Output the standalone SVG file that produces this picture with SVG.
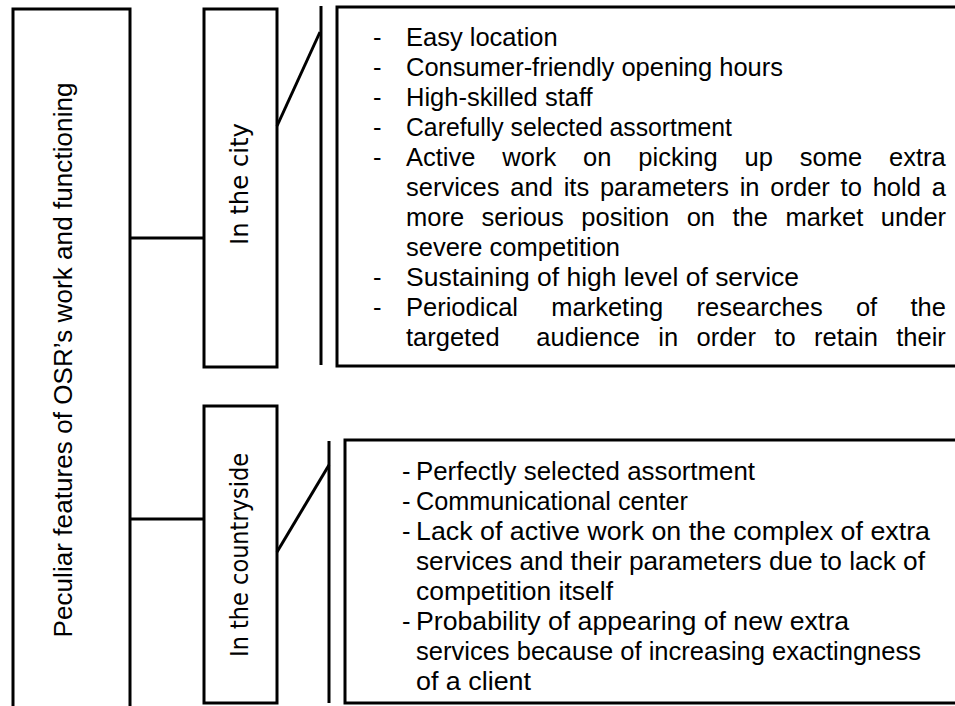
<svg xmlns="http://www.w3.org/2000/svg" width="955" height="706" viewBox="0 0 955 706">
  <style>
    .box { fill: #ffffff; stroke: #000000; stroke-width: 3; }
    .line { fill: none; stroke: #000000; stroke-width: 3; }
    .vlabel { font-family: "DejaVu Sans", sans-serif; font-size: 24px; fill: #000000; }
    .main { font-family: "Liberation Sans", Arial, sans-serif; font-size: 26px; fill: #000000; }
    .item { font-family: "Liberation Sans", Arial, sans-serif; font-size: 25.5px; fill: #000000; }
  </style>
  <rect width="955" height="706" fill="#ffffff"/>

  <!-- root node: open at the bottom edge -->
  <g id="root">
    <rect class="box" x="13" y="9" width="117" height="710"/>
    <text class="main" transform="translate(72,360) rotate(-90)" text-anchor="middle" textLength="555" lengthAdjust="spacing">Peculiar features of OSR’s work and functioning</text>
  </g>

  <g id="city">
    <rect class="box" x="204" y="9" width="73" height="358"/>
    <text class="vlabel" transform="translate(248,184) rotate(-90)" text-anchor="middle" textLength="122" lengthAdjust="spacingAndGlyphs">In the city</text>
  </g>

  <g id="countryside">
    <rect class="box" x="204" y="406" width="73" height="297"/>
    <text class="vlabel" transform="translate(248,555) rotate(-90)" text-anchor="middle" textLength="204" lengthAdjust="spacingAndGlyphs">In the countryside</text>
  </g>

  <g id="city-features">
    <rect class="box" x="337" y="7" width="640" height="359"/>
    <g class="item">
      <text x="373" y="46">-</text><text x="406" y="46">Easy location</text>
      <text x="373" y="76">-</text><text x="406" y="76">Consumer-friendly opening hours</text>
      <text x="373" y="106">-</text><text x="406" y="106">High-skilled staff</text>
      <text x="373" y="136">-</text><text x="406" y="136" textLength="326" lengthAdjust="spacingAndGlyphs">Carefully selected assortment</text>
      <text x="373" y="166">-</text><text x="406" y="166" word-spacing="19.8">Active work on picking up some extra</text>
      <text x="406" y="196" word-spacing="3.7">services and its parameters in order to hold a</text>
      <text x="406" y="226" word-spacing="10.4">more serious position on the market under</text>
      <text x="406" y="256">severe competition</text>
      <text x="373" y="286">-</text><text x="406" y="286" textLength="393" lengthAdjust="spacingAndGlyphs">Sustaining of high level of service</text>
      <text x="373" y="316">-</text><text x="406" y="316" word-spacing="26.2">Periodical marketing researches of the</text>
      <text x="406" y="346" word-spacing="11.3" xml:space="preserve">targeted  audience in order to retain their</text>
    </g>
  </g>

  <g id="countryside-features">
    <rect class="box" x="345" y="440" width="640" height="263"/>
    <g class="item">
      <text x="402" y="480">-</text><text x="416" y="480" textLength="339" lengthAdjust="spacingAndGlyphs">Perfectly selected assortment</text>
      <text x="402" y="510">-</text><text x="416" y="510" textLength="272" lengthAdjust="spacingAndGlyphs">Communicational center</text>
      <text x="402" y="540">-</text><text x="416" y="540" textLength="514" lengthAdjust="spacingAndGlyphs">Lack of active work on the complex of extra</text>
      <text x="416" y="570" textLength="509" lengthAdjust="spacingAndGlyphs">services and their parameters due to lack of</text>
      <text x="416" y="600" textLength="197" lengthAdjust="spacingAndGlyphs">competition itself</text>
      <text x="402" y="630">-</text><text x="416" y="630" textLength="433" lengthAdjust="spacingAndGlyphs">Probability of appearing of new extra</text>
      <text x="416" y="660" textLength="505" lengthAdjust="spacingAndGlyphs">services because of increasing exactingness</text>
      <text x="416" y="690" textLength="115" lengthAdjust="spacingAndGlyphs">of a client</text>
    </g>
  </g>

  <g id="connectors">
    <line class="line" x1="130" y1="238" x2="204" y2="238"/>
    <line class="line" x1="130" y1="519" x2="204" y2="519"/>
    <line class="line" x1="321" y1="6" x2="321" y2="365"/>
    <line class="line" x1="277" y1="126" x2="320" y2="32"/>
    <line class="line" x1="329" y1="441" x2="329" y2="703"/>
    <line class="line" x1="277" y1="552" x2="329" y2="465"/>
  </g>
</svg>
